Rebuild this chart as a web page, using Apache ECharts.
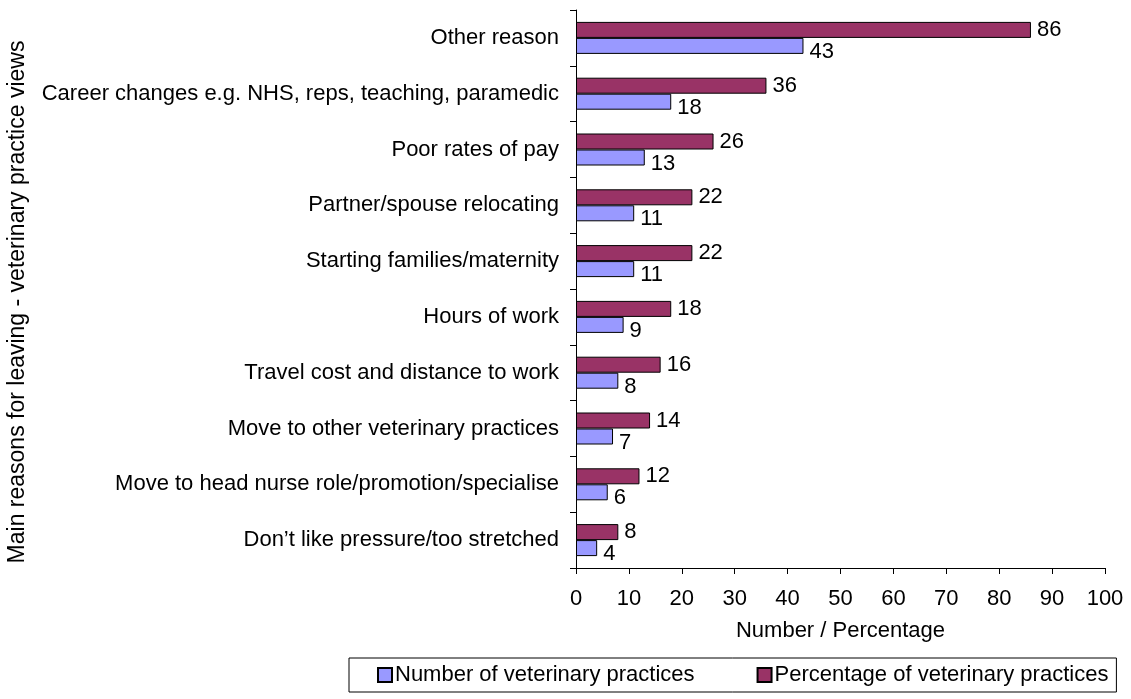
<!DOCTYPE html>
<html>
<head>
<meta charset="utf-8">
<script src="https://cdn.jsdelivr.net/npm/echarts@6/dist/echarts.min.js"></script>
<style>
html,body{margin:0;padding:0;background:#fff;}
#chart{width:1131px;height:699px;}
</style>
</head>
<body>
<div id="chart"></div>
<script>
const categories = [
  "Other reason",
  "Career changes e.g. NHS, reps, teaching, paramedic",
  "Poor rates of pay",
  "Partner/spouse relocating",
  "Starting families/maternity",
  "Hours of work",
  "Travel cost and distance to work",
  "Move to other veterinary practices",
  "Move to head nurse role/promotion/specialise",
  "Don\u2019t like pressure/too stretched"
];
const numberOfPractices = [43, 18, 13, 11, 11, 9, 8, 7, 6, 4];
const percentageOfPractices = [86, 36, 26, 22, 22, 18, 16, 14, 12, 8];
const seriesNames = ["Number of veterinary practices", "Percentage of veterinary practices"];
const xAxisName = "Number / Percentage";
const yAxisName = "Main reasons for leaving - veterinary practice views";

const FONT = "'Liberation Sans', Arial, sans-serif";
const chart = echarts.init(document.getElementById('chart'), null, {renderer: 'canvas'});
chart.setOption({
  animation: false,
  backgroundColor: '#ffffff',
  textStyle: {fontFamily: FONT, color: '#000'},
  grid: {left: 576, right: 26, top: 10, bottom: 131, containLabel: false},
  legend: {
    data: seriesNames,
    left: 349, top: 658,
    orient: 'horizontal',
    borderColor: '#000', borderWidth: 1,
    padding: [6, 8, 6, 28],
    itemWidth: 14, itemHeight: 14, itemGap: 62,
    icon: 'rect',
    textStyle: {fontSize: 22, fontFamily: FONT, color: '#000', padding: [0, 0, 0, -2]}
  },
  xAxis: {
    type: 'value', min: 0, max: 100, interval: 10,
    name: xAxisName, nameLocation: 'middle', nameGap: 52,
    nameTextStyle: {fontSize: 22, fontFamily: FONT, color: '#000'},
    axisLine: {show: true, lineStyle: {color: '#000', width: 1}},
    axisTick: {show: true, length: 6, lineStyle: {color: '#000'}},
    axisLabel: {fontSize: 22, fontFamily: FONT, color: '#000', margin: 20},
    splitLine: {show: false}
  },
  yAxis: {
    type: 'category', data: categories, inverse: true,
    name: yAxisName, nameLocation: 'middle', nameGap: 547, nameRotate: 90,
    nameTextStyle: {fontSize: 23, fontFamily: FONT, color: '#000', padding: [0, 26, 0, 0]},
    axisLine: {show: true, lineStyle: {color: '#000', width: 1}},
    axisTick: {show: true, length: 6, alignWithLabel: false, lineStyle: {color: '#000'}},
    axisLabel: {fontSize: 22, fontFamily: FONT, color: '#000', margin: 17, interval: 0}
  },
  series: [
    {
      name: seriesNames[1], type: 'bar', data: percentageOfPractices,
      barWidth: 16, barGap: '0%',
      itemStyle: {color: '#993366', borderColor: '#000', borderWidth: 1},
      label: {show: true, position: 'right', distance: 6, fontSize: 22, fontFamily: FONT, color: '#000'}
    },
    {
      name: seriesNames[0], type: 'bar', data: numberOfPractices,
      barWidth: 16, barGap: '0%',
      itemStyle: {color: '#9999FF', borderColor: '#000', borderWidth: 1},
      label: {show: true, position: 'right', distance: 6, offset: [0, 6], fontSize: 22, fontFamily: FONT, color: '#000'}
    }
  ]
});
</script>
</body>
</html>
